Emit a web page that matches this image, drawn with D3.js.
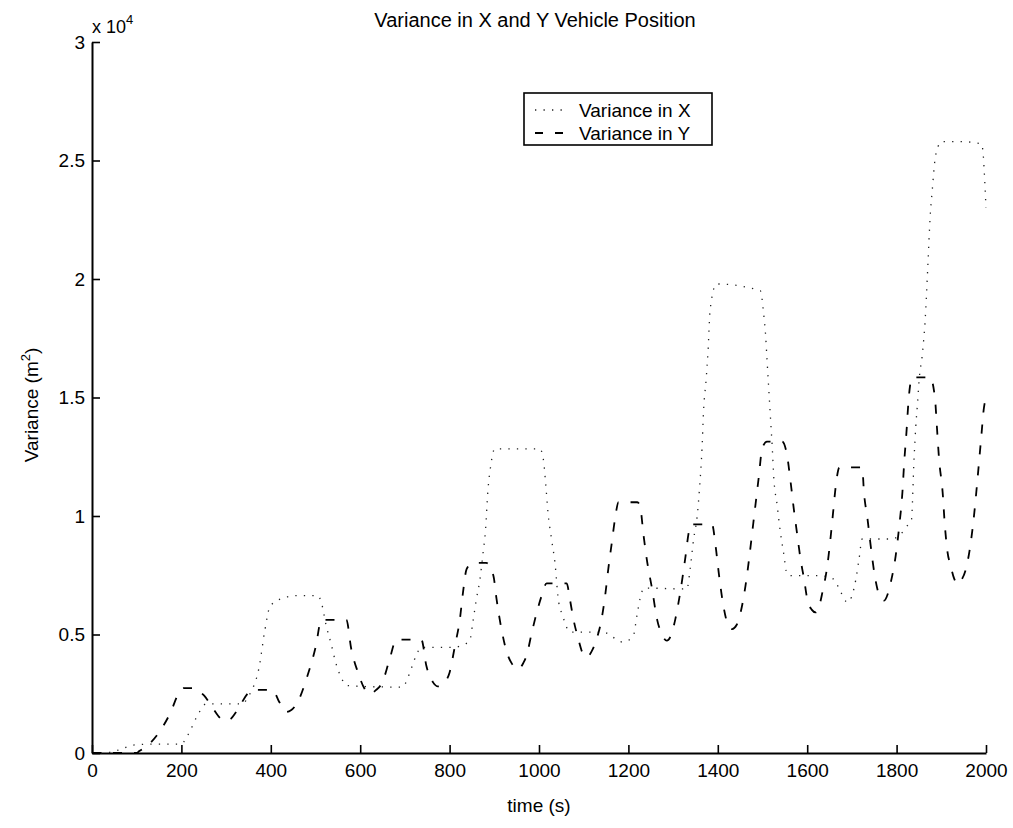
<!DOCTYPE html>
<html>
<head>
<meta charset="utf-8">
<script src="https://cdn.jsdelivr.net/npm/d3@7"></script>
<style>
  html, body { margin: 0; padding: 0; background: #fff; }
  svg { display: block; font-family: "Liberation Sans", Arial, Helvetica, sans-serif; }
</style>
</head>
<body>
<svg id="chart" width="1013" height="828"></svg>
<script>
// Variance of the vehicle position estimate, in m^2, against time in seconds.
const xTime = [0, 40, 70, 90, 120, 200, 210, 218, 240, 255, 337, 350, 359, 374, 386, 399, 430, 460, 505, 513, 524, 535, 545, 557, 570, 620, 695, 705, 715, 727, 737, 807, 835, 845, 852, 860, 868, 875, 880, 886, 892, 901, 1002, 1009, 1015, 1020, 1028, 1036, 1043, 1053, 1070, 1143, 1188, 1211, 1219, 1226, 1235, 1331, 1338, 1346, 1354, 1359, 1365, 1368, 1374, 1378, 1383, 1397, 1495, 1503, 1507, 1510, 1514, 1518, 1522, 1525, 1533, 1540, 1547, 1555, 1565, 1630, 1659, 1675, 1690, 1709, 1716, 1723, 1788, 1806, 1824, 1833, 1839, 1843, 1847, 1850, 1858, 1864, 1870, 1875, 1880, 1885, 1893, 1900, 1940, 1990, 1994, 1997, 2000];
const xVar  = [0, 30, 200, 330, 370, 380, 600, 880, 1720, 2070, 2070, 2400, 2700, 3630, 5100, 6210, 6550, 6640, 6640, 6360, 5370, 4600, 3830, 3200, 2850, 2800, 2780, 3100, 3600, 4200, 4460, 4460, 4600, 4740, 5520, 6500, 7340, 8470, 9320, 11140, 12120, 12830, 12830, 12480, 11350, 10170, 9030, 7970, 6500, 5790, 5100, 5100, 4680, 4950, 5790, 6500, 6960, 6920, 7760, 9030, 10010, 11140, 12970, 14380, 15780, 16900, 18730, 19790, 19510, 18450, 17610, 16620, 15360, 14090, 12830, 11700, 10430, 9310, 8470, 7550, 7480, 7480, 7340, 6790, 6360, 7340, 8190, 9030, 9030, 9170, 9590, 9800, 12400, 13800, 14800, 15650, 16900, 18300, 20600, 22600, 23800, 24900, 25600, 25800, 25800, 25700, 25200, 24200, 23000];

const yTime = [0, 100, 105, 124, 150, 176, 195, 205, 229, 240, 251, 270, 289, 300, 311, 322, 352, 362, 404, 419, 434, 445, 460, 482, 501, 513, 569, 580, 595, 610, 621, 635, 650, 665, 681, 737, 748, 763, 774, 787, 800, 812, 823, 830, 838, 850, 864, 882, 898, 905, 916, 928, 940, 954, 965, 972, 984, 995, 1006, 1017, 1062, 1069, 1077, 1088, 1098, 1107, 1118, 1129, 1140, 1148, 1155, 1163, 1170, 1178, 1220, 1226, 1234, 1241, 1253, 1264, 1275, 1286, 1296, 1305, 1316, 1327, 1335, 1339, 1387, 1395, 1402, 1410, 1421, 1432, 1442, 1451, 1462, 1470, 1477, 1484, 1492, 1499, 1510, 1544, 1555, 1563, 1570, 1578, 1585, 1593, 1600, 1610, 1619, 1627, 1634, 1645, 1652, 1658, 1664, 1672, 1723, 1727, 1735, 1742, 1750, 1757, 1765, 1772, 1780, 1787, 1798, 1806, 1813, 1817, 1822, 1827, 1835, 1875, 1886, 1890, 1895, 1903, 1908, 1914, 1921, 1928, 1936, 1945, 1955, 1966, 1974, 1981, 1989, 1996, 2000];
const yVar  = [0, 0, 70, 310, 870, 1720, 2560, 2740, 2740, 2600, 2420, 1900, 1435, 1360, 1450, 1720, 2570, 2660, 2660, 2150, 1730, 1800, 2150, 3260, 4530, 5620, 5620, 4390, 3400, 2700, 2490, 2650, 3000, 3900, 4780, 4780, 3680, 2980, 2810, 2950, 3400, 4530, 5650, 6780, 7760, 8000, 8020, 8020, 7480, 6500, 5230, 4250, 3750, 3540, 3800, 4100, 5090, 5930, 6640, 7160, 7160, 6500, 5650, 4810, 4200, 4040, 4300, 4810, 5650, 6640, 7760, 8890, 9870, 10580, 10580, 10430, 9170, 8190, 6920, 5650, 5000, 4740, 5000, 5650, 6780, 8190, 9310, 9650, 9650, 8750, 7620, 6500, 5510, 5230, 5400, 5930, 7060, 8190, 9310, 10430, 11700, 12830, 13140, 13140, 12550, 11420, 10300, 9170, 8190, 7340, 6500, 6050, 5930, 6200, 6780, 7900, 9030, 10160, 11280, 12050, 12050, 11000, 9870, 8750, 7620, 6920, 6550, 6430, 6700, 7200, 8330, 9590, 11000, 12260, 13520, 14940, 15850, 15850, 14940, 13810, 12400, 11000, 9590, 8470, 7900, 7400, 7130, 7300, 7760, 8890, 10160, 11560, 13250, 14650, 14900];

const xTicks = [0, 200, 400, 600, 800, 1000, 1200, 1400, 1600, 1800, 2000];
const yTicks = [0, 5000, 10000, 15000, 20000, 25000, 30000];
const seriesNames = ["Variance in X", "Variance in Y"];
const titleText = "Variance in X and Y Vehicle Position";
const xLabelText = "time (s)";

const svg = d3.select("#chart");
const plot = { left: 92, right: 986, top: 42, bottom: 753 };

const x = d3.scaleLinear().domain([0, 2000]).range([plot.left, plot.right]);
const y = d3.scaleLinear().domain([0, 30000]).range([plot.bottom, plot.top]);

// Axes: ticks point inward, as in a MATLAB figure.
const xAxis = d3.axisBottom(x).tickValues(xTicks).tickSizeInner(-8).tickSizeOuter(0).tickPadding(11)
  .tickFormat(d3.format("d"));
const yAxis = d3.axisLeft(y).tickValues(yTicks).tickSizeInner(-8).tickSizeOuter(0).tickPadding(7)
  .tickFormat(d => d3.format("~g")(d / 1e4));

const gx = svg.append("g").attr("transform", `translate(0,${plot.bottom})`).call(xAxis);
const gy = svg.append("g").attr("transform", `translate(${plot.left},0)`).call(yAxis);
[gx, gy].forEach(g => {
  g.select(".domain").attr("stroke", "#000").attr("stroke-width", 2);
  g.selectAll(".tick line").attr("stroke", "#000").attr("stroke-width", 1.6);
  g.selectAll(".tick text").attr("fill", "#000").style("font-size", "19px")
    .style("font-family", "'Liberation Sans', Arial, Helvetica, sans-serif");
});

// Exponent multiplier at the top of the y axis.
const expo = svg.append("text").attr("x", plot.left).attr("y", 33)
  .style("font-size", "18px").attr("fill", "#000");
expo.append("tspan").text("x 10");
expo.append("tspan").attr("dy", -9).style("font-size", "13px").text("4");

// Curves
const lineX = d3.line().x((d, i) => x(xTime[i])).y(d => y(d)).curve(d3.curveMonotoneX);
const lineY = d3.line().x((d, i) => x(yTime[i])).y(d => y(d)).curve(d3.curveMonotoneX);

svg.append("path").attr("d", lineX(xVar))
  .attr("fill", "none").attr("stroke", "#222").attr("stroke-width", 1.3)
  .attr("stroke-dasharray", "1.3,7.2");

svg.append("path").attr("d", lineY(yVar))
  .attr("fill", "none").attr("stroke", "#000").attr("stroke-width", 1.8)
  .attr("stroke-dasharray", "9,12");

// Title and axis labels
svg.append("text").attr("x", 535).attr("y", 27).attr("text-anchor", "middle")
  .style("font-size", "20px").attr("fill", "#000").text(titleText);

svg.append("text").attr("x", 539).attr("y", 812).attr("text-anchor", "middle")
  .style("font-size", "19px").attr("fill", "#000").text(xLabelText);

const yl = svg.append("text").attr("transform", "translate(38,405) rotate(-90)")
  .attr("text-anchor", "middle").style("font-size", "19px").attr("fill", "#000");
yl.append("tspan").text("Variance (m");
yl.append("tspan").attr("dy", -8).style("font-size", "13px").text("2");
yl.append("tspan").attr("dy", 8).text(")");

// Legend
const lg = svg.append("g");
lg.append("rect").attr("x", 524).attr("y", 93).attr("width", 188).attr("height", 52)
  .attr("fill", "#fff").attr("stroke", "#000").attr("stroke-width", 1.6);
const legendRows = [
  { name: seriesNames[0], dash: "1.3,7.2", w: 1.3, color: "#222", cy: 110 },
  { name: seriesNames[1], dash: "8,12", w: 1.8, color: "#000", cy: 133 }
];
legendRows.forEach(r => {
  lg.append("line").attr("x1", 535).attr("x2", 564).attr("y1", r.cy).attr("y2", r.cy)
    .attr("stroke", r.color).attr("stroke-width", r.w).attr("stroke-dasharray", r.dash);
  lg.append("text").attr("x", 579).attr("y", r.cy + 6.5).style("font-size", "19px")
    .attr("fill", "#000").text(r.name);
});
</script>
</body>
</html>
